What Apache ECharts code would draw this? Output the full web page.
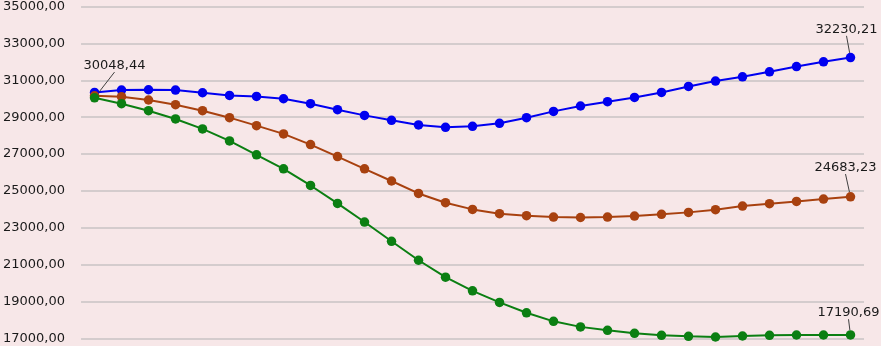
<!DOCTYPE html>
<html>
<head>
<meta charset="utf-8">
<script src="https://cdn.jsdelivr.net/npm/echarts@6/dist/echarts.min.js"></script>
<style>
html,body{margin:0;padding:0;background:#F7E7E8;}
#chart{width:881px;height:346px;}
</style>
</head>
<body>
<div id="chart"></div>
<script>
const categories = Array.from({length: 29}, (_, i) => String(i + 1));
const blueValues = [30341, 30470, 30487, 30470, 30324, 30178, 30124, 29999, 29730, 29405, 29097, 28827, 28578, 28449, 28503, 28665, 28973, 29313, 29606, 29838, 30070, 30341, 30665, 30957, 31189, 31459, 31746, 32000, 32230.21];
const brownValues = [30162, 30108, 29930, 29676, 29351, 28973, 28541, 28092, 27514, 26865, 26200, 25540, 24865, 24362, 24000, 23768, 23659, 23585, 23560, 23585, 23640, 23730, 23838, 23984, 24180, 24308, 24432, 24557, 24683.23];
const greenValues = [30048.44, 29730, 29351, 28903, 28362, 27714, 26957, 26200, 25297, 24324, 23314, 22270, 21243, 20324, 19584, 18957, 18395, 17930, 17630, 17444, 17281, 17173, 17119, 17081, 17135, 17173, 17189, 17189, 17190.69];
const yTicks = {min: 17000, max: 35000, interval: 2000};

const fmt = v => Number(v).toFixed(2).replace('.', ',');

function makeData(values, labelIdx) {
  return values.map((v, i) => labelIdx.includes(i)
    ? {value: v, label: {show: true}}
    : v);
}

function makeSeries(name, values, color, labelIdx, layout) {
  return {
    name: name,
    type: 'line',
    data: makeData(values, labelIdx),
    symbol: 'circle',
    symbolSize: 9.5,
    itemStyle: {color: color},
    lineStyle: {color: color, width: 2},
    label: {
      show: false,
      position: 'top',
      formatter: p => fmt(p.value),
      fontFamily: 'DejaVu Sans',
      fontSize: 13,
      color: '#1a1a1a'
    },
    labelLine: {show: true, lineStyle: {color: '#404040', width: 1}},
    labelLayout: layout,
    animation: false
  };
}

const chart = echarts.init(document.getElementById('chart'));
chart.setOption({
  backgroundColor: '#F7E7E8',
  grid: {left: 78, right: 17, top: 5.5, bottom: 7.5, containLabel: false},
  xAxis: {
    type: 'category',
    data: categories,
    boundaryGap: true,
    show: false
  },
  yAxis: {
    type: 'value',
    min: yTicks.min,
    max: yTicks.max,
    interval: yTicks.interval,
    axisLine: {show: false},
    axisTick: {show: false},
    axisLabel: {
      formatter: v => fmt(v),
      fontFamily: 'DejaVu Sans',
      fontSize: 13,
      color: '#1a1a1a',
      margin: 16
    },
    splitLine: {lineStyle: {color: '#C9C3C4', width: 1.5}}
  },
  series: [
    makeSeries('blue', blueValues, '#0000F0', [28], p => ({dx: -4, dy: -12})),
    makeSeries('brown', brownValues, '#A8410F', [28], p => ({dx: -5, dy: -13})),
    makeSeries('green', greenValues, '#0B7F12', [0, 28], p => p.dataIndex === 0 ? {dx: 20, dy: -16} : {dx: -2, dy: -6})
  ]
});
</script>
</body>
</html>
